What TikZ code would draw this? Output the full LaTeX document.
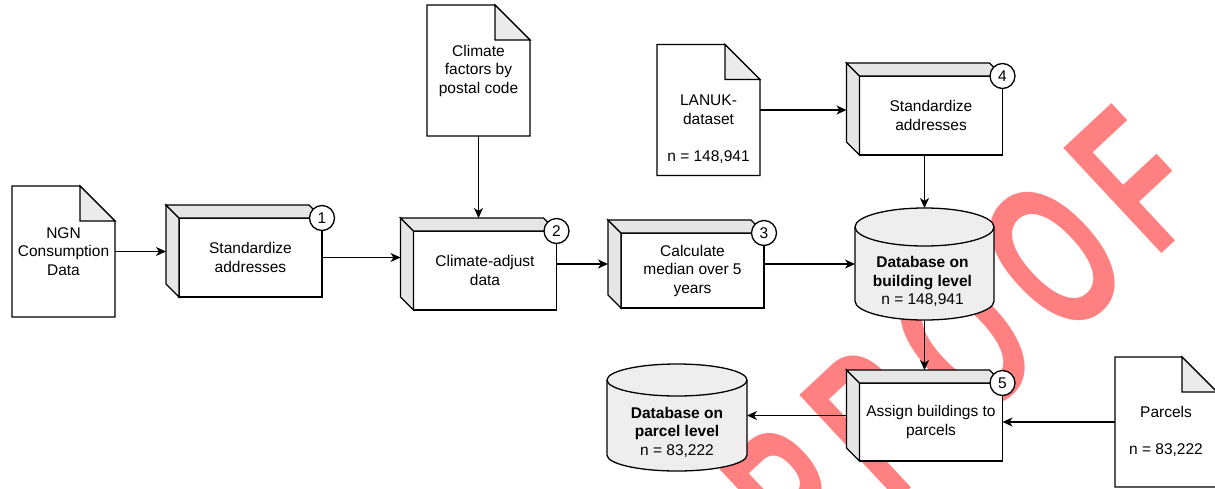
\documentclass[tikz,border=0pt]{standalone}
\usepackage{fontspec}
\setmainfont{Liberation Sans}
\usetikzlibrary{arrows.meta,calc,positioning}
\pgfdeclarelayer{background}
\pgfsetlayers{background,main}
\definecolor{facegray}{HTML}{E6E6E6}
\definecolor{foldgray}{HTML}{EBEBEB}
\definecolor{dbgray}{HTML}{EEEEEE}
\definecolor{proofred}{HTML}{FF8080}
\tikzset{
  shapeline/.style={line width=1.3pt, draw=black, line join=miter},
  docbox/.style={rectangle, minimum width=103pt, minimum height=131pt, inner sep=0pt, outer sep=0pt},
  cubebox/.style={rectangle, minimum width=156pt, minimum height=92pt, inner sep=0pt, outer sep=0pt},
  dbbox/.style={rectangle, minimum width=139pt, minimum height=110pt, inner sep=0pt, outer sep=0pt},
  txt/.style={align=center, font=\fontsize{15.5pt}{18.5pt}\selectfont, inner sep=0pt},
  stepnum/.style={circle, draw, line width=1.3pt, fill=white, minimum size=25pt, inner sep=0pt,
    font=\fontsize{15.5pt}{18.5pt}\selectfont},
  flow/.style={line width=1.3pt, -{Stealth[length=10pt, width=9pt, inset=3pt]}},
  proofmark/.style={anchor=base east, rotate=43, xscale=0.62, inner sep=0pt, text=proofred,
    font=\fontsize{209pt}{209pt}\selectfont\bfseries},
}
\newcommand{\gap}{\kern36pt}
% page with a folded corner round a node
\newcommand{\docpage}[1]{%
  \begin{pgfonlayer}{background}
  \draw[shapeline, fill=white] (#1.north west) -- ([xshift=-35pt]#1.north east) -- ([yshift=-35pt]#1.north east) -- (#1.south east) -- (#1.south west) -- cycle;%
  \draw[shapeline, fill=foldgray] ([xshift=-35pt]#1.north east) -- ([shift={(-35pt,-35pt)}]#1.north east) -- ([yshift=-35pt]#1.north east) -- cycle;%
  \end{pgfonlayer}}
% box with depth on the left and on top
\newcommand{\cubeshape}[1]{%
  \begin{pgfonlayer}{background}
  \draw[shapeline, fill=white] ([shift={(13pt,-13pt)}]#1.north west) rectangle (#1.south east);%
  \draw[shapeline, fill=facegray] (#1.north west) -- ([shift={(13pt,-13pt)}]#1.north west) -- ([xshift=13pt]#1.south west) -- ([yshift=13pt]#1.south west) -- cycle;%
  \draw[shapeline, fill=facegray] (#1.north west) -- ([xshift=-13pt]#1.north east) -- ([yshift=-13pt]#1.north east) -- ([shift={(13pt,-13pt)}]#1.north west) -- cycle;%
  \end{pgfonlayer}}
% database cylinder: node, x radius, y radius
\newcommand{\dbshape}[3]{%
  \begin{pgfonlayer}{background}
  \draw[shapeline, fill=dbgray] ([yshift=-#3]#1.north west) -- ([yshift=#3]#1.south west) arc[start angle=180, end angle=360, x radius=#2, y radius=#3] -- ([yshift=-#3]#1.north east) arc[start angle=0, end angle=180, x radius=#2, y radius=#3] -- cycle;%
  \draw[shapeline] ([yshift=-#3]#1.north west) arc[start angle=180, end angle=360, x radius=#2, y radius=#3];%
  \end{pgfonlayer}}

\begin{document}
\begin{tikzpicture}[x=1pt, y=1pt]
  \useasboundingbox (0,0) rectangle (1215,-488);%

  % Stamp behind the diagram
  \begin{pgfonlayer}{background}
  \node [proofmark] (proof) at (1214,-205) {P\gap R\gap O\gap O\gap F};%
  \end{pgfonlayer}

  % Input data
  \node [docbox] (ngn) at (63.5,-251.5) {};%
  \docpage{ngn}
  \node [txt] (ngntxt) at (ngn.center) {NGN\\Consumption\\Data};%

  \node [docbox] (clim) at (478.5,-70.5) {};%
  \docpage{clim}
  \node [txt] (climtxt) at (clim.center) {Climate\\factors by\\postal code};%

  \node [docbox] (lanuk) at (708.5,-110) {};%
  \docpage{lanuk}
  \node [txt] (lanuktxt) at ([yshift=-19pt]lanuk.center) {LANUK-\\dataset\\[18.5pt]n = 148,941};%

  \node [docbox, minimum width=102pt, minimum height=130pt] (parc) at (1166,-422) {};%
  \docpage{parc}
  \node [txt] (parctxt) at ([yshift=-9pt]parc.center) {Parcels\\[18.5pt]n = 83,222};%

  % Step 1
  \node [cubebox] (s1) at (244,-251) {};%
  \cubeshape{s1}
  \node [txt] (s1txt) at ([shift={(6.5pt,-6.5pt)}]s1.center) {Standardize\\addresses};%
  \node [stepnum] (n1) at ([yshift=-13pt]s1.north east) {1};%

  % Step 2
  \node [cubebox] (s2) at (478.5,-264) {};%
  \cubeshape{s2}
  \node [txt] (s2txt) at ([shift={(6.5pt,-6.5pt)}]s2.center) {Climate-adjust\\data};%
  \node [stepnum] (n2) at ([yshift=-13pt]s2.north east) {2};%

  % Step 3
  \node [cubebox, minimum height=88pt] (s3) at (686,-264) {};%
  \cubeshape{s3}
  \node [txt] (s3txt) at ([shift={(6.5pt,-6.5pt)}]s3.center) {Calculate\\median over 5\\years};%
  \node [stepnum] (n3) at ([yshift=-13pt]s3.north east) {3};%

  % Step 4
  \node [cubebox] (s4) at (924.5,-109) {};%
  \cubeshape{s4}
  \node [txt] (s4txt) at ([shift={(6.5pt,-6.5pt)}]s4.center) {Standardize\\addresses};%
  \node [stepnum] (n4) at ([yshift=-13pt]s4.north east) {4};%

  % Step 5
  \node [cubebox, minimum height=91pt] (s5) at (924.5,-415.5) {};%
  \cubeshape{s5}
  \node [txt] (s5txt) at ([shift={(6.5pt,-6.5pt)}]s5.center) {Assign buildings to\\parcels};%
  \node [stepnum] (n5) at ([yshift=-13pt]s5.north east) {5};%

  % Databases
  \node [dbbox, minimum height=112pt] (dbb) at (924.5,-264) {};%
  \dbshape{dbb}{69.5pt}{19pt}
  \node [txt] (dbbtxt) at ([shift={(-2pt,-17.5pt)}]dbb.center) {\textbf{Database on}\\\textbf{building level}\\n = 148,941};%

  \node [dbbox, minimum width=140pt, minimum height=107pt] (dbp) at (677,-417.5) {};%
  \dbshape{dbp}{70pt}{16pt}
  \node [txt] (dbptxt) at ([yshift=-14.5pt]dbp.center) {\textbf{Database on}\\\textbf{parcel level}\\n = 83,222};%

  % Connectors
  \draw [flow] (ngn.east) -- (ngn.east -| s1.west);%
  \draw [flow] (s1txt.center -| s1.east) -- (s1txt.center -| s2.west);%
  \draw [flow] (clim.south) -- (s2.north);%
  \draw [flow] (s2.east) -- (s3.west);%
  \draw [flow] (s3.east) -- (dbb.west);%
  \draw [flow] (lanuk.east) -- (lanuk.east -| s4.west);%
  \draw [flow] (s4.south) -- (dbb.north);%
  \draw [flow] (dbb.south) -- (s5.north);%
  \draw [flow] (parc.west) -- (parc.west -| s5.east);%
  \draw [flow] (s5.west) -- (s5.west -| dbp.east);%
\end{tikzpicture}
\end{document}
